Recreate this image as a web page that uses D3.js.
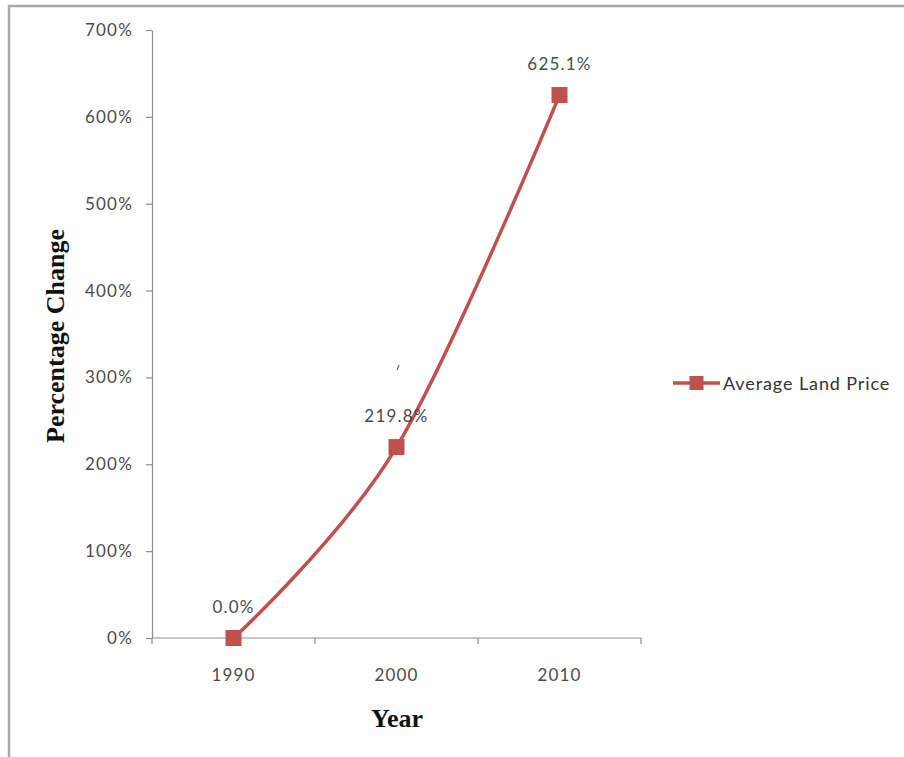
<!DOCTYPE html>
<html>
<head>
<meta charset="utf-8">
<script src="https://cdn.jsdelivr.net/npm/d3@7"></script>
<style>
  html, body { margin: 0; padding: 0; background: #fff; }
  svg { display: block; }
</style>
</head>
<body>
<svg id="chart" width="904" height="757"></svg>
<script>
// Data
const years = ["1990", "2000", "2010"];
const landPrice = [0.0, 219.8, 625.1];          // percent change
const yTicks = [0, 100, 200, 300, 400, 500, 600, 700];
const seriesName = "Average Land Price";

const W = 904, H = 757;
const svg = d3.select("#chart");
const red = "#C0504D";
const axisGrey = "#8c8c8c";
const textGrey = "#4a4a4a";
const tickFont = "Lato, 'Open Sans', sans-serif";
const titleFont = "'Liberation Serif', 'Times New Roman', serif";

// outer frame (top and left edges)
svg.append("path")
  .attr("d", `M9,${H} L9,6 L${W},6`)
  .attr("fill", "none")
  .attr("stroke", "#a8a8a8")
  .attr("stroke-width", 2.5);

const plot = { left: 152, right: 641, top: 30, bottom: 638 };

const x = d3.scaleBand().domain(years).range([plot.left, plot.right]).padding(0);
const y = d3.scaleLinear().domain([0, 700]).range([plot.bottom, plot.top]);

function labelStyle(sel, size, ls) {
  sel.attr("fill", textGrey)
    .style("font-family", tickFont)
    .style("font-size", size + "px")
    .style("letter-spacing", ls + "px");
}

// Y axis
const yAxis = d3.axisLeft(y)
  .tickValues(yTicks)
  .tickFormat(d => d + "%")
  .tickSizeInner(6)
  .tickSizeOuter(0)
  .tickPadding(13);
const gy = svg.append("g").attr("transform", `translate(${plot.left},0)`).call(yAxis);
gy.select(".domain").attr("stroke", axisGrey).attr("stroke-width", 1.2);
gy.selectAll(".tick line").attr("stroke", axisGrey).attr("stroke-width", 1.2);
gy.selectAll(".tick text").call(labelStyle, 17, 1.2);

// X axis with boundary ticks between categories
const gx = svg.append("g").attr("transform", `translate(0,${plot.bottom})`);
gx.append("line")
  .attr("x1", plot.left).attr("x2", plot.right)
  .attr("y1", 0).attr("y2", 0)
  .attr("stroke", axisGrey).attr("stroke-width", 1.2);
const bounds = years.map(d => x(d)).concat([x(years[years.length - 1]) + x.bandwidth()]);
gx.selectAll("line.bt").data(bounds).enter().append("line")
  .attr("class", "bt")
  .attr("x1", d => d).attr("x2", d => d)
  .attr("y1", 0).attr("y2", 6)
  .attr("stroke", axisGrey).attr("stroke-width", 1.2);
gx.selectAll("text").data(years).enter().append("text")
  .attr("x", d => x(d) + x.bandwidth() / 2)
  .attr("y", 43)
  .attr("text-anchor", "middle")
  .call(labelStyle, 17, 1.2)
  .text(d => d);

// Axis titles
svg.append("text")
  .attr("transform", `translate(64,336) rotate(-90)`)
  .attr("text-anchor", "middle")
  .style("font-family", titleFont)
  .style("font-weight", "bold")
  .style("font-size", "26px")
  .attr("fill", "#111")
  .text("Percentage Change");

svg.append("text")
  .attr("x", 397).attr("y", 727)
  .attr("text-anchor", "middle")
  .style("font-family", titleFont)
  .style("font-weight", "bold")
  .style("font-size", "26px")
  .attr("fill", "#111")
  .text("Year");

// Series
const pts = years.map((yr, i) => ({ yr, v: landPrice[i] }));
const cx = d => x(d.yr) + x.bandwidth() / 2;

const line = d3.line()
  .x(cx)
  .y(d => y(d.v))
  .curve(d3.curveCatmullRom.alpha(0));

svg.append("path")
  .datum(pts)
  .attr("d", line)
  .attr("fill", "none")
  .attr("stroke", red)
  .attr("stroke-width", 3.5);

const ms = 16;
svg.selectAll("rect.marker").data(pts).enter().append("rect")
  .attr("class", "marker")
  .attr("x", d => cx(d) - ms / 2)
  .attr("y", d => y(d.v) - ms / 2)
  .attr("width", ms).attr("height", ms)
  .attr("fill", red);

// Value labels
svg.selectAll("text.val").data(pts).enter().append("text")
  .attr("class", "val")
  .attr("x", cx)
  .attr("y", d => y(d.v) - 25)
  .attr("text-anchor", "middle")
  .call(labelStyle, 17, 1.2)
  .text(d => d.v.toFixed(1) + "%");

// small stray stroke above the 2000 label
svg.append("line")
  .attr("x1", 397).attr("y1", 370)
  .attr("x2", 399).attr("y2", 365)
  .attr("stroke", "#666").attr("stroke-width", 1.2);

// Legend
const lg = svg.append("g").attr("transform", "translate(673,383)");
lg.append("line").attr("x1", 0).attr("x2", 47).attr("y1", 0).attr("y2", 0)
  .attr("stroke", red).attr("stroke-width", 3.5);
lg.append("rect").attr("x", 23.5 - 7).attr("y", -7).attr("width", 14).attr("height", 14)
  .attr("fill", red);
lg.append("text")
  .attr("x", 50).attr("y", 6.5)
  .call(labelStyle, 18, 0.9)
  .attr("fill", "#333")
  .text(seriesName);
</script>
</body>
</html>
